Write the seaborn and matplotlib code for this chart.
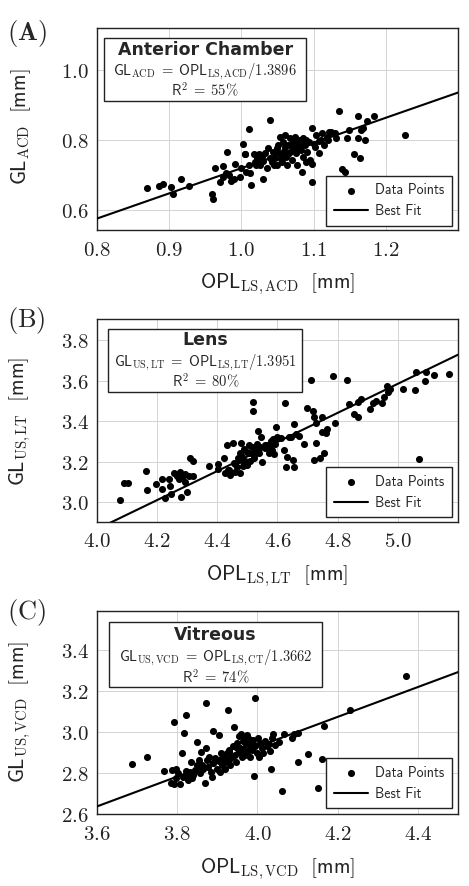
import matplotlib
matplotlib.use("Agg")
import matplotlib.pyplot as plt
import seaborn as sns
import pandas as pd
from matplotlib.ticker import FuncFormatter
from matplotlib.patches import Rectangle

# ---------------- Panel A: Anterior chamber ----------------
acd_opl = [0.869, 0.886, 0.891, 0.903, 0.905, 0.916, 0.928, 0.959, 0.961, 0.963,
           0.974, 0.980, 0.970, 0.974, 0.979, 0.983, 0.985, 0.991, 0.998, 1.002,
           1.005, 1.007, 1.011, 1.012, 1.014, 1.010, 1.017, 1.019, 1.021, 1.026,
           1.028, 1.030, 1.033, 1.035, 1.037, 1.039, 1.040, 1.042, 1.044, 1.047,
           1.049, 1.049, 1.051, 1.053, 1.055, 1.056, 1.058, 1.059, 1.061, 1.062,
           1.063, 1.065, 1.067, 1.067, 1.070, 1.071, 1.072, 1.074, 1.076, 1.077,
           1.079, 1.080, 1.082, 1.084, 1.085, 1.086, 1.088, 1.090, 1.091, 1.093,
           1.095, 1.098, 1.098, 1.098, 1.102, 1.104, 1.107, 1.108, 1.111, 1.114,
           1.118, 1.122, 1.124, 1.131, 1.135, 1.140, 1.144, 1.146, 1.149, 1.156,
           1.161, 1.162, 1.164, 1.165, 1.168, 1.171, 1.174, 1.184, 1.227,
           1.060, 1.070, 1.080, 1.050, 1.090, 1.075, 1.085, 1.065, 1.030, 1.020,
           1.045, 1.055, 1.100, 1.110, 1.120, 1.130, 1.000, 0.990, 1.005, 1.025]
acd_gl = [0.664, 0.670, 0.674, 0.665, 0.645, 0.689, 0.670, 0.646, 0.631, 0.721,
          0.727, 0.767, 0.679, 0.695, 0.705, 0.700, 0.683, 0.731, 0.695, 0.788,
          0.759, 0.708, 0.831, 0.705, 0.671, 0.729, 0.759, 0.738, 0.748, 0.729,
          0.752, 0.688, 0.762, 0.719, 0.776, 0.857, 0.748, 0.738, 0.767, 0.748,
          0.729, 0.776, 0.786, 0.810, 0.757, 0.738, 0.795, 0.769, 0.814, 0.752,
          0.729, 0.786, 0.805, 0.767, 0.743, 0.795, 0.776, 0.810, 0.762, 0.729,
          0.786, 0.800, 0.771, 0.708, 0.807, 0.752, 0.786, 0.738, 0.767, 0.795,
          0.743, 0.731, 0.833, 0.679, 0.781, 0.814, 0.797, 0.762, 0.819, 0.786,
          0.810, 0.822, 0.824, 0.807, 0.884, 0.717, 0.708, 0.805, 0.830, 0.759,
          0.805, 0.868, 0.750, 0.829, 0.833, 0.800, 0.854, 0.869, 0.814,
          0.780, 0.790, 0.780, 0.770, 0.800, 0.770, 0.790, 0.760, 0.740, 0.730,
          0.730, 0.745, 0.790, 0.800, 0.800, 0.820, 0.720, 0.690, 0.760, 0.760]

# ---------------- Panel B: Lens ----------------
lt_opl = [4.078, 4.091, 4.103, 4.162, 4.165, 4.197, 4.215, 4.216, 4.225, 4.238,
          4.246, 4.244, 4.257, 4.266, 4.271, 4.277, 4.280, 4.286, 4.291, 4.294,
          4.299, 4.305, 4.310, 4.319, 4.319, 4.373, 4.402, 4.401, 4.423, 4.426,
          4.432, 4.435, 4.443, 4.452, 4.454, 4.460, 4.465, 4.471, 4.474, 4.476,
          4.479, 4.482, 4.485, 4.490, 4.493, 4.499, 4.504, 4.504, 4.510, 4.515,
          4.519, 4.519, 4.521, 4.523, 4.526, 4.532, 4.534, 4.537, 4.543, 4.546,
          4.550, 4.560, 4.565, 4.571, 4.576, 4.582, 4.585, 4.587, 4.593, 4.594,
          4.598, 4.612, 4.620, 4.624, 4.627, 4.632, 4.637, 4.645, 4.651, 4.654,
          4.656, 4.663, 4.670, 4.688, 4.698, 4.713, 4.719, 4.721, 4.723, 4.727,
          4.729, 4.742, 4.748, 4.749, 4.753, 4.762, 4.765, 4.784, 4.792, 4.831,
          4.838, 4.853, 4.866, 4.866, 4.877, 4.909, 4.918, 4.929, 4.947, 4.955,
          4.964, 4.966, 4.975, 5.017, 5.056, 5.062, 5.071, 5.089, 5.095, 5.119,
          5.170,
          4.480, 4.500, 4.520, 4.460, 4.540, 4.580, 4.440, 4.490, 4.470, 4.560]
lt_gl = [3.012, 3.097, 3.097, 3.154, 3.061, 3.090, 3.115, 3.066, 3.020, 3.115,
         3.041, 3.081, 3.143, 3.130, 3.113, 3.151, 3.025, 3.127, 3.102, 3.138,
         3.048, 3.127, 3.220, 3.205, 3.127, 3.179, 3.189, 3.163, 3.220, 3.146,
         3.283, 3.159, 3.135, 3.291, 3.192, 3.151, 3.176, 3.209, 3.242, 3.146,
         3.291, 3.225, 3.179, 3.261, 3.205, 3.184, 3.242, 3.283, 3.205, 3.271,
         3.496, 3.452, 3.233, 3.217, 3.258, 3.288, 3.353, 3.242, 3.274, 3.320,
         3.200, 3.266, 3.283, 3.242, 3.274, 3.258, 3.312, 3.238, 3.288, 3.370,
         3.320, 3.315, 3.258, 3.491, 3.176, 3.222, 3.324, 3.320, 3.209, 3.386,
         3.173, 3.335, 3.327, 3.286, 3.463, 3.603, 3.452, 3.419, 3.209, 3.294,
         3.389, 3.217, 3.348, 3.419, 3.245, 3.340, 3.363, 3.623, 3.389, 3.603,
         3.483, 3.435, 3.419, 3.493, 3.509, 3.458, 3.488, 3.500, 3.491, 3.521,
         3.575, 3.545, 3.559, 3.559, 3.554, 3.642, 3.212, 3.600, 3.644, 3.628,
         3.631,
         3.230, 3.250, 3.240, 3.190, 3.270, 3.300, 3.160, 3.200, 3.220, 3.280]

# ---------------- Panel C: Vitreous ----------------
vcd_opl = [3.687, 3.724, 3.767, 3.791, 3.786, 3.784, 3.792, 3.796, 3.797, 3.803,
           3.807, 3.811, 3.814, 3.818, 3.821, 3.821, 3.824, 3.828, 3.832, 3.835,
           3.836, 3.840, 3.845, 3.849, 3.850, 3.855, 3.857, 3.860, 3.861, 3.865,
           3.870, 3.871, 3.872, 3.874, 3.878, 3.880, 3.884, 3.886, 3.889, 3.890,
           3.895, 3.899, 3.903, 3.905, 3.907, 3.909, 3.911, 3.915, 3.918, 3.920,
           3.924, 3.926, 3.928, 3.930, 3.932, 3.936, 3.940, 3.942, 3.944, 3.947,
           3.950, 3.953, 3.955, 3.957, 3.959, 3.961, 3.964, 3.965, 3.968, 3.969,
           3.972, 3.974, 3.975, 3.978, 3.980, 3.982, 3.984, 3.986, 3.989, 3.992,
           3.993, 3.994, 3.999, 4.001, 4.004, 4.007, 4.011, 4.015, 4.019, 4.023,
           4.028, 4.032, 4.033, 4.036, 4.040, 4.044, 4.055, 4.061, 4.065, 4.087,
           4.090, 4.101, 4.101, 4.126, 4.150, 4.161, 4.165, 4.232, 4.371,
           3.930, 3.950, 3.970, 3.980, 3.990, 3.960, 3.910, 3.890, 3.860, 3.840]
vcd_gl = [2.845, 2.876, 2.810, 3.048, 2.813, 2.750, 2.744, 2.772, 2.821, 2.797,
          2.747, 2.896, 2.780, 2.995, 3.083, 2.808, 2.788, 2.764, 2.805, 2.855,
          2.772, 2.788, 2.813, 2.949, 2.838, 2.863, 2.800, 2.904, 2.838, 2.821,
          2.750, 2.921, 3.144, 2.863, 2.830, 2.879, 2.805, 2.780, 3.003, 2.846,
          2.871, 2.821, 2.987, 2.860, 2.805, 2.899, 2.838, 2.879, 2.855, 2.821,
          2.896, 3.107, 2.863, 2.912, 2.838, 2.879, 2.929, 3.023, 2.888, 2.855,
          2.945, 2.904, 2.979, 2.921, 2.992, 2.879, 2.954, 2.916, 2.970, 2.888,
          2.942, 2.983, 2.904, 2.929, 2.965, 2.879, 2.945, 2.912, 2.962, 2.785,
          3.165, 2.929, 2.896, 2.970, 2.879, 2.945, 2.921, 2.896, 2.954, 2.929,
          2.942, 2.907, 2.817, 2.970, 2.992, 2.937, 2.950, 2.711, 2.992, 2.970,
          2.992, 2.995, 2.853, 2.893, 2.724, 2.868, 3.031, 3.106, 3.276,
          2.900, 2.920, 2.950, 2.930, 2.940, 2.900, 2.870, 2.850, 2.830, 2.800]

# fit slopes (GL = OPL / n)
acd_n, lt_n, vcd_n = 1.3896, 1.3951, 1.3662

panel_tags = ["A", "B", "C"]
titles = ["Anterior Chamber", "Lens", "Vitreous"]
equations = [r"$\mathsf{GL}_{\mathrm{ACD}}\;=\;\mathsf{OPL}_{\mathrm{LS,ACD}}/\mathsf{1.3896}$",
             r"$\mathsf{GL}_{\mathrm{US,LT}}\;=\;\mathsf{OPL}_{\mathrm{LS,LT}}/\mathsf{1.3951}$",
             r"$\mathsf{GL}_{\mathrm{US,VCD}}\;=\;\mathsf{OPL}_{\mathrm{LS,CT}}/\mathsf{1.3662}$"]
r2_labels = [r"$\mathsf{R}^{\mathsf{2}}\;=\;\mathsf{55\%}$",
             r"$\mathsf{R}^{\mathsf{2}}\;=\;\mathsf{80\%}$",
             r"$\mathsf{R}^{\mathsf{2}}\;=\;\mathsf{74\%}$"]
xlabels = [r"$\mathsf{OPL}_{\mathrm{LS,ACD}}\ \ \mathsf{[mm]}$",
           r"$\mathsf{OPL}_{\mathrm{LS,LT}}\ \ \mathsf{[mm]}$",
           r"$\mathsf{OPL}_{\mathrm{LS,VCD}}\ \ \mathsf{[mm]}$"]
ylabels = [r"$\mathsf{GL}_{\mathrm{ACD}}\ \ \mathsf{[mm]}$",
           r"$\mathsf{GL}_{\mathrm{US,LT}}\ \ \mathsf{[mm]}$",
           r"$\mathsf{GL}_{\mathrm{US,VCD}}\ \ \mathsf{[mm]}$"]
xticks_list = [[0.8, 0.9, 1.0, 1.1, 1.2],
               [4.0, 4.2, 4.4, 4.6, 4.8, 5.0],
               [3.6, 3.8, 4.0, 4.2, 4.4]]
yticks_list = [[0.6, 0.8, 1.0],
               [3.0, 3.2, 3.4, 3.6, 3.8],
               [2.6, 2.8, 3.0, 3.2, 3.4]]

sns.set_theme(style="white")
plt.rcParams['mathtext.fontset'] = 'cm'
plt.rcParams['font.family'] = ['DejaVu Sans']

fig = plt.figure(figsize=(4.69, 8.86), dpi=100)

layout = [
    dict(rect=[0.2068, 0.7404, 0.7697, 0.2280], xlim=(0.8, 1.3), ylim=(0.543, 1.12),
         box=(0.020, 0.639, 0.579, 0.949), tx=0.300, ty=(0.891, 0.782, 0.692),
         leg_y=0.020, ylab_y=0.51, tag_y=0.962),
    dict(rect=[0.2068, 0.4112, 0.7697, 0.2284], xlim=(4.0, 5.2), ylim=(2.904, 3.902),
         box=(0.0305, 0.642, 0.567, 0.951), tx=0.301, ty=(0.898, 0.785, 0.695),
         leg_y=0.022, ylab_y=0.495, tag_y=0.638),
    dict(rect=[0.2068, 0.0813, 0.7697, 0.2294], xlim=(3.6, 4.5), ylim=(2.598, 3.595),
         box=(0.033, 0.623, 0.622, 0.943), tx=0.328, ty=(0.880, 0.767, 0.674),
         leg_y=0.028, ylab_y=0.503, tag_y=0.309),
]

datasets = [(acd_opl, acd_gl, acd_n), (lt_opl, lt_gl, lt_n), (vcd_opl, vcd_gl, vcd_n)]

fmt = FuncFormatter(lambda v, p: f"${v:.1f}$")

for i, (lay, (xs, ys, n)) in enumerate(zip(layout, datasets)):
    ax = fig.add_axes(lay["rect"])
    df = pd.DataFrame({"x": xs, "y": ys})
    sns.scatterplot(data=df, x="x", y="y", ax=ax, color="black", s=26,
                    linewidth=0, label="Data Points", zorder=3)
    x0, x1 = lay["xlim"]
    fit = pd.DataFrame({"x": [x0, x1], "y": [x0 / n, x1 / n]})
    sns.lineplot(data=fit, x="x", y="y", ax=ax, color="black", lw=1.5,
                 label="Best Fit", zorder=4)
    ax.set_xlim(lay["xlim"])
    ax.set_ylim(lay["ylim"])
    ax.set_xticks(xticks_list[i])
    ax.set_yticks(yticks_list[i])
    ax.xaxis.set_major_formatter(fmt)
    ax.yaxis.set_major_formatter(fmt)
    ax.tick_params(axis="both", length=0, labelsize=15, colors="#222222")
    ax.tick_params(axis="x", pad=7)
    ax.tick_params(axis="y", pad=6)
    ax.grid(True, color="#d4d4d4", lw=0.7)
    ax.set_axisbelow(True)
    for sp in ax.spines.values():
        sp.set_color("#222222")
        sp.set_linewidth(1.0)
        sp.set_visible(True)

    ax.set_xlabel(xlabels[i], fontsize=15, color="#222222")
    ax.set_ylabel(ylabels[i], fontsize=15, color="#222222")
    ax.xaxis.set_label_coords(0.5, -0.205)
    ax.yaxis.set_label_coords(-0.177, lay["ylab_y"])

    bx0, by0, bx1, by1 = lay["box"]
    ax.add_patch(Rectangle((bx0, by0), bx1 - bx0, by1 - by0, transform=ax.transAxes,
                           facecolor="white", edgecolor="#222222", lw=1.0, zorder=5))
    ax.text(lay["tx"], lay["ty"][0], titles[i], transform=ax.transAxes, ha="center",
            va="center", fontsize=12.5, fontweight="bold", zorder=6)
    ax.text(lay["tx"], lay["ty"][1], equations[i], transform=ax.transAxes, ha="center",
            va="center", fontsize=10.5, zorder=6)
    ax.text(lay["tx"], lay["ty"][2], r2_labels[i], transform=ax.transAxes, ha="center",
            va="center", fontsize=10.5, zorder=6)

    leg = ax.legend(loc="lower right", bbox_to_anchor=(0.984, lay["leg_y"]),
                    borderaxespad=0, frameon=True, fancybox=False, framealpha=1.0,
                    prop={"family": "cmss10", "size": 10}, handlelength=2.5,
                    labelspacing=0.5, borderpad=0.55, handletextpad=0.5)
    leg.get_frame().set_edgecolor("#222222")
    leg.get_frame().set_linewidth(1.0)
    leg.set_zorder(7)

    tag = (r"$\mathbf{(%s)}$" if i == 0 else r"$\mathrm{(%s)}$") % panel_tags[i]
    fig.text(0.014, lay["tag_y"], tag, fontsize=19, ha="left", va="center")

fig.savefig("out.png", dpi=100)
